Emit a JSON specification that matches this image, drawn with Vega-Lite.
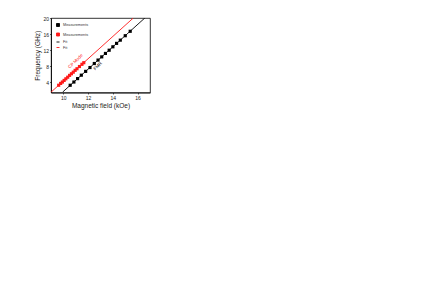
{
  "$schema": "https://vega.github.io/schema/vega-lite/v6.json",
  "autosize": {"type": "none"},
  "padding": {"left": 51, "top": 18, "right": 286, "bottom": 215},
  "width": 99,
  "height": 74.5,
  "config": {
    "font": "Liberation Sans",
    "view": {"stroke": "black", "strokeWidth": 0.8},
    "axis": {"grid": false, "domainColor": "black", "domainWidth": 0.8, "tickColor": "black", "tickSize": 1.5, "tickWidth": 0.6, "labelFontSize": 5, "labelColor": "#222", "titleFontSize": 6.5, "titleFontWeight": "normal", "titleColor": "#222", "labelPadding": 1, "labelOverlap": false}
  },
  "datasets": {
    "pts": [
      {"H": 10.55, "f": 3.3, "s": "m1"},
      {"H": 10.85, "f": 4.1, "s": "m1"},
      {"H": 11.15, "f": 4.95, "s": "m1"},
      {"H": 11.45, "f": 5.8, "s": "m1"},
      {"H": 11.8, "f": 6.75, "s": "m1"},
      {"H": 12.15, "f": 7.7, "s": "m1"},
      {"H": 12.5, "f": 8.7, "s": "m1"},
      {"H": 12.8, "f": 9.55, "s": "m1"},
      {"H": 13.1, "f": 10.35, "s": "m1"},
      {"H": 13.4, "f": 11.2, "s": "m1"},
      {"H": 13.7, "f": 12.0, "s": "m1"},
      {"H": 14.0, "f": 12.85, "s": "m1"},
      {"H": 14.3, "f": 13.7, "s": "m1"},
      {"H": 14.6, "f": 14.5, "s": "m1"},
      {"H": 15.0, "f": 15.6, "s": "m1"},
      {"H": 15.4, "f": 16.7, "s": "m1"},
      {"H": 9.62, "f": 3.3, "s": "m2"},
      {"H": 9.78, "f": 3.75, "s": "m2"},
      {"H": 9.92, "f": 4.1, "s": "m2"},
      {"H": 10.06, "f": 4.5, "s": "m2"},
      {"H": 10.2, "f": 4.9, "s": "m2"},
      {"H": 10.35, "f": 5.3, "s": "m2"},
      {"H": 10.5, "f": 5.75, "s": "m2"},
      {"H": 10.65, "f": 6.15, "s": "m2"},
      {"H": 10.8, "f": 6.55, "s": "m2"},
      {"H": 10.95, "f": 7.0, "s": "m2"},
      {"H": 11.1, "f": 7.4, "s": "m2"},
      {"H": 11.3, "f": 7.95, "s": "m2"},
      {"H": 11.5, "f": 8.5, "s": "m2"},
      {"H": 11.65, "f": 8.9, "s": "m2"}
    ],
    "fits": [
      {"H": 9.94, "f": 1.6, "s": "f1"},
      {"H": 16.58, "f": 20.0, "s": "f1"},
      {"H": 9.0, "f": 1.58, "s": "f2"},
      {"H": 15.65, "f": 20.0, "s": "f2"}
    ],
    "notes": [
      {"H": 11.0, "f": 9.2, "s": "m2", "t": "CP Mode"},
      {"H": 12.8, "f": 8.0, "s": "m1", "t": "FMR"}
    ]
  },
  "encoding": {
    "x": {"field": "H", "type": "quantitative", "scale": {"domain": [9, 17], "nice": false, "zero": false}, "axis": {"values": [10, 12, 14, 16], "title": "Magnetic field (kOe)", "titlePadding": 2.5, "labelOverlap": false}},
    "y": {"field": "f", "type": "quantitative", "scale": {"domain": [1.5, 20], "nice": false, "zero": false}, "axis": {"values": [4, 8, 12, 16, 20], "title": "Frequency (GHz)", "titlePadding": 2.5, "labelOverlap": false}}
  },
  "layer": [
    {
      "data": {"name": "fits"},
      "mark": {"type": "line", "strokeWidth": 0.9, "clip": true},
      "encoding": {
        "color": {"field": "s", "type": "nominal"},
        "detail": {"field": "s"}
      }
    },
    {
      "data": {"name": "pts"},
      "mark": {"type": "point", "filled": true, "opacity": 1, "size": 10},
      "encoding": {
        "color": {
          "field": "s", "type": "nominal",
          "scale": {"domain": ["m1", "m2", "f1", "f2"], "range": ["black", "#ff1a1a", "black", "#ff1a1a"]},
          "legend": {
            "orient": "top-left", "offset": 5, "title": null, "padding": 0,
            "labelFontSize": 3.8, "labelColor": "#333", "rowPadding": 1.5, "labelOffset": 3,
            "symbolSize": 9, "symbolStrokeWidth": 0.9,
            "labelExpr": "datum.value == 'm1' || datum.value == 'm2' ? 'Measurements' : 'Fit'",
            "encode": {"symbols": {"update": {
              "stroke": {"signal": "scale('color', datum.value)"},
              "size": {"signal": "datum.value == 'f1' || datum.value == 'f2' ? 64 : 9"}
            }}}
          }
        },
        "shape": {
          "field": "s", "type": "nominal",
          "scale": {"domain": ["m1", "m2", "f1", "f2"], "range": ["square", "square", "stroke", "stroke"]}
        }
      }
    },
    {
      "data": {"name": "notes"},
      "mark": {"type": "text", "angle": -45, "fontSize": 4.5, "align": "center", "baseline": "middle"},
      "encoding": {
        "text": {"field": "t"},
        "color": {"field": "s", "type": "nominal"}
      }
    }
  ]
}
